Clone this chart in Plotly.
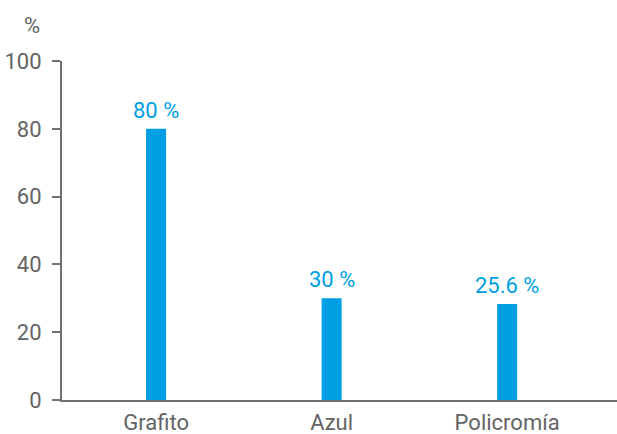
import plotly.graph_objects as go

categories = ["Grafito", "Azul", "Policromía"]
values = [80, 30, 28.3]
labels = ["80 %", "30 %", "25.6 %"]

font_family = "Roboto, Arial, sans-serif"
gray = "#646464"
blue = "#009fe3"

fig = go.Figure(go.Bar(x=categories, y=values, width=0.114, marker_color=blue, marker_line_width=0))

# value labels above the bars
for cat, val, lab in zip(categories, values, labels):
    fig.add_annotation(x=cat, y=val, text=lab, showarrow=False, yanchor="bottom", yshift=4,
                       font=dict(family=font_family, size=22, color=blue))

# "%" unit label above the y axis
fig.add_annotation(x=-0.054, y=1.106, xref="paper", yref="paper", text="%", showarrow=False,
                   xanchor="center", yanchor="middle",
                   font=dict(family=font_family, size=22, color=gray))

fig.update_layout(
    width=617, height=434, margin=dict(l=62, r=0, t=61, b=34),
    plot_bgcolor="white", paper_bgcolor="white", showlegend=False,
    font=dict(family=font_family, size=22, color=gray),
    xaxis=dict(range=[-0.536, 2.626], showline=True, linecolor="#707070", linewidth=2,
               ticks="", showgrid=False, zeroline=False, ticklabelstandoff=2, automargin=False),
    yaxis=dict(range=[0, 100], tickvals=[0, 20, 40, 60, 80, 100], showline=True, linecolor="#707070",
               linewidth=2, ticks="outside", ticklen=8, tickwidth=2, tickcolor="#707070",
               showgrid=False, zeroline=False, ticklabelstandoff=6, automargin=False),
)

fig.write_html("out.html", config={"displayModeBar": False},
               post_script="document.body.style.margin='0';document.body.style.overflow='hidden';")
